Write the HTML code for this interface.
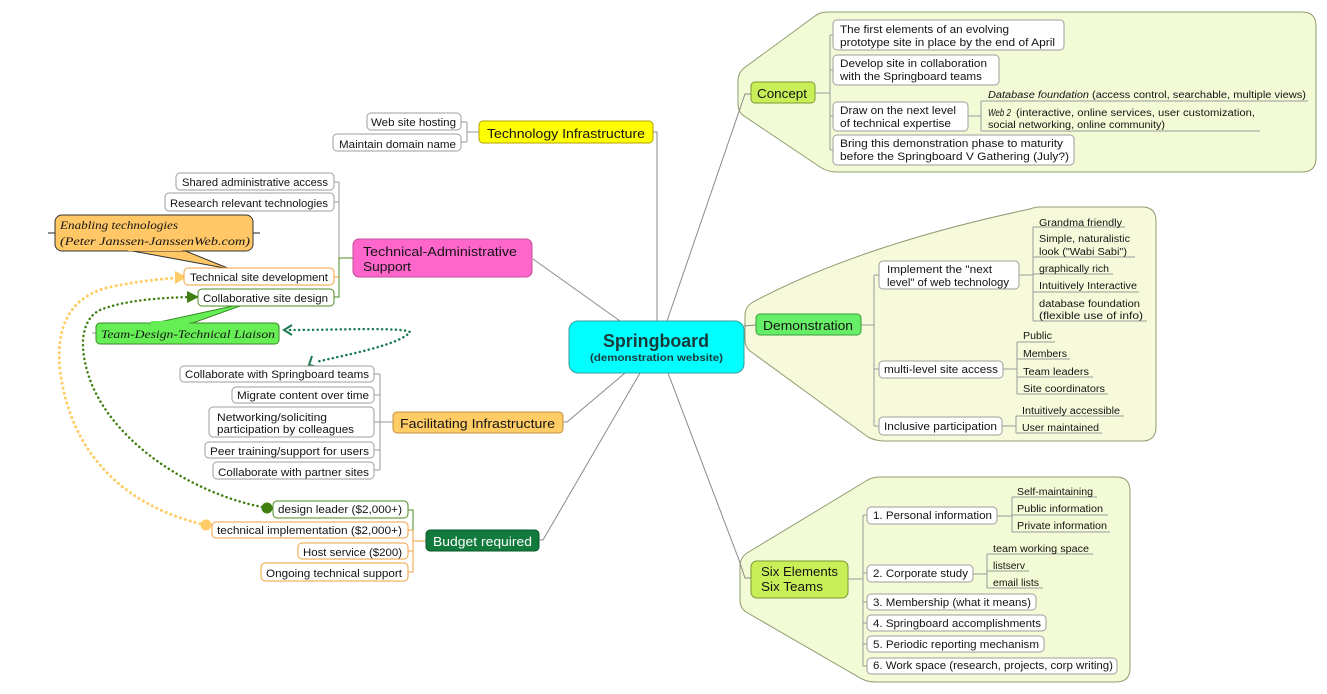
<!DOCTYPE html>
<html><head><meta charset="utf-8"><style>
html,body{margin:0;padding:0;background:#fff;}
svg{display:block;}
text{font-family:"Liberation Sans",Arial,sans-serif;fill:#141414;}
.t{font-size:11px;}
.s{font-size:10px;}
.m{font-size:13px;}
.h{font-family:"Liberation Serif",serif;font-style:italic;font-size:12px;}
</style></head><body>
<svg width="1327" height="694" viewBox="0 0 1327 694" xmlns="http://www.w3.org/2000/svg">
<rect width="1327" height="694" fill="#fff"/>

<!-- panels -->
<path d="M828,12 H1302 Q1316,12 1316,26 V158 Q1316,172 1302,172 H836 Q828,172 820,167 L744,116 Q738,112 738,104 V80 Q738,73 744,68 L815,16 Q820,12 828,12 Z" fill="#f3fad6" stroke="#8e9d72" stroke-width="1"/>
<path d="M1040,207 H1142 Q1156,207 1156,221 V427 Q1156,441 1142,441 H884 Q876,441 868,437 L750,351 Q745,347 745,340 V315 Q745,307 753,302 Q860,245 1030,209 Q1035,207 1040,207 Z" fill="#f6fadb" stroke="#8e9d72" stroke-width="1"/>
<path d="M880,477 H1116 Q1130,477 1130,491 V668 Q1130,682 1116,682 H876 Q868,682 862,679 L746,612 Q740,608 740,600 V566 Q740,558 747,553 L866,481 Q872,477 880,477 Z" fill="#f3fad6" stroke="#8e9d72" stroke-width="1"/>

<!-- main connectors -->
<g stroke="#8a8a8a" stroke-width="1" fill="none">
<path d="M653,132 H657 V321"/>
<path d="M533,259 L620,321"/>
<path d="M667,321 L745,94 H751"/>
<path d="M744,326 L756,325"/>
<path d="M668,373 L739,560 L745,578 H751"/>
<path d="M563,422 H567 L625,373"/>
<path d="M539,540 H543 L640,373"/>
</g>

<!-- brackets -->
<g stroke="#9a9a9a" stroke-width="1" fill="none">
<!-- concept -->
<path d="M815,93 H830 M830,35 V150 M830,35 H833 M830,70 H833 M830,116 H833 M830,150 H833"/>
<path d="M968,116 H981 M981,101 V131 M981,101 H1308 M981,131 H1260"/>
<!-- demonstration -->
<path d="M861,325 H874 M874,275 V426 M874,275 H879 M874,369 H879 M874,426 H879"/>
<path d="M1019,275 H1033 M1033,227 V321 M1033,227 H1125 M1033,257 H1135 M1033,274 H1113 M1033,292 H1139 M1033,321 H1147"/>
<path d="M1003,369 H1017 M1017,342 V394 M1017,342 H1055 M1017,359 H1070 M1017,377 H1093 M1017,394 H1108"/>
<path d="M1002,426 H1016 M1016,416 V433 M1016,416 H1124 M1016,433 H1102"/>
<!-- six -->
<path d="M848,579 H863 M863,515 V666 M863,515 H867 M863,573 H867 M863,602 H867 M863,623 H867 M863,644 H867 M863,666 H867"/>
<path d="M997,516 H1012 M1012,497 V532 M1012,497 H1097 M1012,515 H1108 M1012,532 H1110"/>
<path d="M973,574 H987 M987,554 V588 M987,554 H1093 M987,571 H1029 M987,588 H1043"/>
<!-- tech infra -->
<path d="M479,132 H467 M467,122 V142 M467,122 H461 M467,142 H461"/>
<!-- tech admin -->
<path d="M339,182 V258 M339,182 H334 M339,202 H334"/>
<!-- facilitating -->
<path d="M393,422 H380 M380,374 V470 M380,374 H374 M380,395 H374 M380,422 H374 M380,450 H374 M380,470 H374"/>
</g>
<g stroke="#4a8a20" stroke-width="1" fill="none">
<path d="M353,258 H339 V297 H334"/>
<path d="M413,530 V510 H408"/>
</g>
<g stroke="#f0a040" stroke-width="1" fill="none">
<path d="M339,277 H334"/>
<path d="M426,541 H413 M413,530 V572 M413,530 H408 M413,551 H408 M413,572 H408"/>
</g>

<!-- dotted relation curves -->
<path d="M205,525 C120,505 70,450 60,370 C55,320 75,295 110,287 C140,281 160,279 176,278" fill="none" stroke="#ffcc66" stroke-width="3" stroke-linecap="round" stroke-dasharray="0.1 5"/>
<polygon points="187,277 175,271 175,284" fill="#ffcc66"/>
<circle cx="206" cy="525" r="5.5" fill="#ffcc66"/>
<path d="M262,507 C200,495 120,450 92,385 C78,350 80,320 100,310 C125,300 160,298 188,297" fill="none" stroke="#3f7f10" stroke-width="2.5" stroke-linecap="round" stroke-dasharray="0.1 4.5"/>
<polygon points="199,297 187,291 187,303" fill="#3f7f10"/>
<circle cx="267" cy="508" r="5.5" fill="#3f7f10"/>
<path d="M290,330 C340,330 400,327 410,332 C400,345 345,355 316,362" fill="none" stroke="#1a7a50" stroke-width="2.5" stroke-linecap="round" stroke-dasharray="0.1 4.5"/>
<polyline points="292,325 284,330 292,335" fill="none" stroke="#1a7a50" stroke-width="2"/>
<polyline points="312,356 309,365 318,367" fill="none" stroke="#1a7a50" stroke-width="2"/>

<!-- enabling callout -->
<line x1="48" y1="233" x2="260" y2="233" stroke="#222" stroke-width="1"/>
<polygon points="127,250 230,269 183,250" fill="#ffc766" stroke="#333" stroke-width="1"/>
<rect x="55" y="215" width="198" height="36" rx="7" fill="#ffc766" stroke="#333" stroke-width="1"/>
<rect x="128" y="246" width="54" height="5" fill="#ffc766"/>
<text class="h" x="60" y="229" textLength="118" lengthAdjust="spacingAndGlyphs">Enabling technologies</text>
<text class="h" x="60" y="245" textLength="190" lengthAdjust="spacingAndGlyphs">(Peter Janssen-JanssenWeb.com)</text>

<!-- liaison callout -->
<line x1="92" y1="333" x2="96" y2="333" stroke="#999"/>
<polygon points="150,324 233,306 240,306 190,324" fill="#66ee55" stroke="#3a8a2a" stroke-width="1"/>
<rect x="96" y="323" width="183" height="21" rx="4" fill="#66ee55" stroke="#3a8a2a" stroke-width="1"/>
<rect x="151" y="321" width="38" height="4" fill="#66ee55"/>
<text class="h" x="101" y="338" textLength="174" lengthAdjust="spacingAndGlyphs">Team-Design-Technical Liaison</text>

<!-- white boxes -->
<g fill="#fff" stroke="#9e9e9e" stroke-width="1">
<rect x="833" y="20" width="231" height="30" rx="4"/>
<rect x="833" y="55" width="166" height="30" rx="4"/>
<rect x="833" y="102" width="135" height="29" rx="4"/>
<rect x="833" y="135" width="241" height="30" rx="4"/>
<rect x="879" y="261" width="140" height="28" rx="4"/>
<rect x="879" y="361" width="124" height="17" rx="4"/>
<rect x="879" y="417" width="123" height="18" rx="4"/>
<rect x="867" y="507" width="130" height="17" rx="4"/>
<rect x="867" y="565" width="106" height="17" rx="4"/>
<rect x="867" y="594" width="169" height="16" rx="4"/>
<rect x="867" y="615" width="179" height="16" rx="4"/>
<rect x="867" y="636" width="177" height="16" rx="4"/>
<rect x="867" y="658" width="250" height="16" rx="4"/>
<rect x="367" y="113" width="94" height="17" rx="4"/>
<rect x="333" y="134" width="128" height="17" rx="4"/>
<rect x="176" y="173" width="158" height="17" rx="4"/>
<rect x="165" y="193" width="169" height="18" rx="4"/>
<rect x="180" y="366" width="194" height="16" rx="4"/>
<rect x="232" y="387" width="142" height="16" rx="4"/>
<rect x="209" y="407" width="165" height="30" rx="4"/>
<rect x="205" y="442" width="169" height="16" rx="4"/>
<rect x="213" y="462" width="161" height="17" rx="4"/>
</g>
<g fill="#fff" stroke="#f0a040" stroke-width="1">
<rect x="184" y="268" width="150" height="17" rx="4"/>
<rect x="212" y="522" width="196" height="16" rx="4"/>
<rect x="298" y="543" width="110" height="16" rx="4"/>
<rect x="261" y="563" width="147" height="18" rx="4"/>
</g>
<g fill="#fff" stroke="#4a8a20" stroke-width="1">
<rect x="198" y="289" width="136" height="17" rx="4"/>
<rect x="273" y="501" width="135" height="17" rx="4"/>
</g>

<!-- colored topic boxes -->
<rect x="569" y="321" width="175" height="52" rx="9" fill="#00ffff" stroke="#3a9a9a"/>
<rect x="751" y="82" width="64" height="21" rx="4" fill="#c8ee58" stroke="#7a9a30"/>
<rect x="756" y="314" width="105" height="21" rx="4" fill="#66ee66" stroke="#3a9a3a"/>
<rect x="751" y="561" width="97" height="37" rx="6" fill="#c8ee58" stroke="#7a9a30"/>
<rect x="479" y="121" width="174" height="22" rx="4" fill="#ffff00" stroke="#b0a000"/>
<rect x="353" y="239" width="179" height="38" rx="6" fill="#ff66cc" stroke="#c0509a"/>
<rect x="393" y="412" width="170" height="21" rx="4" fill="#ffcc66" stroke="#c09040"/>
<rect x="426" y="530" width="113" height="21" rx="4" fill="#117a3c" stroke="#0a5a2a"/>

<!-- center text -->
<text x="603" y="347" font-size="18" font-weight="bold" textLength="106" lengthAdjust="spacingAndGlyphs" style="fill:#1a3a3a">Springboard</text>
<text x="590" y="361" font-size="10.5" font-weight="bold" textLength="133" lengthAdjust="spacingAndGlyphs" style="fill:#1a3a3a">(demonstration website)</text>

<!-- topic texts -->
<text class="m" x="757" y="98" textLength="50" lengthAdjust="spacingAndGlyphs">Concept</text>
<text class="m" x="763" y="330" textLength="90" lengthAdjust="spacingAndGlyphs">Demonstration</text>
<text class="m" x="761" y="576" textLength="77" lengthAdjust="spacingAndGlyphs">Six Elements</text>
<text class="m" x="761" y="591" textLength="62" lengthAdjust="spacingAndGlyphs">Six Teams</text>
<text class="m" x="487" y="138" textLength="158" lengthAdjust="spacingAndGlyphs">Technology Infrastructure</text>
<text class="m" x="363" y="256" textLength="154" lengthAdjust="spacingAndGlyphs">Technical-Administrative</text>
<text class="m" x="363" y="271" textLength="48" lengthAdjust="spacingAndGlyphs">Support</text>
<text class="m" x="400" y="428" textLength="155" lengthAdjust="spacingAndGlyphs">Facilitating Infrastructure</text>
<text class="m" x="433" y="546" textLength="99" lengthAdjust="spacingAndGlyphs" style="fill:#fff">Budget required</text>

<!-- concept texts -->
<text class="t" x="840" y="33" textLength="169" lengthAdjust="spacingAndGlyphs">The first elements of an evolving</text>
<text class="t" x="840" y="46" textLength="215" lengthAdjust="spacingAndGlyphs">prototype site in place by the end of April</text>
<text class="t" x="840" y="67" textLength="147" lengthAdjust="spacingAndGlyphs">Develop site in collaboration</text>
<text class="t" x="840" y="80" textLength="142" lengthAdjust="spacingAndGlyphs">with the Springboard teams</text>
<text class="t" x="840" y="114" textLength="116" lengthAdjust="spacingAndGlyphs">Draw on the next level</text>
<text class="t" x="840" y="127" textLength="111" lengthAdjust="spacingAndGlyphs">of technical expertise</text>
<text class="t" x="840" y="147" textLength="223" lengthAdjust="spacingAndGlyphs">Bring this demonstration phase to maturity</text>
<text class="t" x="840" y="160" textLength="229" lengthAdjust="spacingAndGlyphs">before the Springboard V Gathering (July?)</text>
<text class="s" x="988" y="98" font-style="italic" textLength="101" lengthAdjust="spacingAndGlyphs">Database foundation</text>
<text class="s" x="1092" y="98" textLength="214" lengthAdjust="spacingAndGlyphs">(access control, searchable, multiple views)</text>
<text class="s" x="988" y="116" font-style="italic" textLength="23" lengthAdjust="spacingAndGlyphs">Web 2</text>
<text class="s" x="1016" y="116" textLength="239" lengthAdjust="spacingAndGlyphs">(interactive, online services, user customization,</text>
<text class="s" x="988" y="128" textLength="177" lengthAdjust="spacingAndGlyphs">social networking, online community)</text>

<!-- demonstration texts -->
<text class="t" x="887" y="273" textLength="105" lengthAdjust="spacingAndGlyphs">Implement the "next</text>
<text class="t" x="887" y="286" textLength="122" lengthAdjust="spacingAndGlyphs">level" of web technology</text>
<text class="t" x="884" y="373" textLength="114" lengthAdjust="spacingAndGlyphs">multi-level site access</text>
<text class="t" x="884" y="430" textLength="113" lengthAdjust="spacingAndGlyphs">Inclusive participation</text>
<text class="s" x="1039" y="226" textLength="83" lengthAdjust="spacingAndGlyphs">Grandma friendly</text>
<text class="s" x="1039" y="242" textLength="91" lengthAdjust="spacingAndGlyphs">Simple, naturalistic</text>
<text class="s" x="1039" y="255" textLength="88" lengthAdjust="spacingAndGlyphs">look ("Wabi Sabi")</text>
<text class="s" x="1039" y="272" textLength="70" lengthAdjust="spacingAndGlyphs">graphically rich</text>
<text class="s" x="1039" y="289" textLength="98" lengthAdjust="spacingAndGlyphs">Intuitively Interactive</text>
<text class="s" x="1039" y="307" textLength="101" lengthAdjust="spacingAndGlyphs">database foundation</text>
<text class="s" x="1039" y="319" textLength="104" lengthAdjust="spacingAndGlyphs">(flexible use of info)</text>
<text class="s" x="1023" y="339" textLength="29" lengthAdjust="spacingAndGlyphs">Public</text>
<text class="s" x="1023" y="357" textLength="44" lengthAdjust="spacingAndGlyphs">Members</text>
<text class="s" x="1023" y="375" textLength="66" lengthAdjust="spacingAndGlyphs">Team leaders</text>
<text class="s" x="1023" y="392" textLength="82" lengthAdjust="spacingAndGlyphs">Site coordinators</text>
<text class="s" x="1022" y="414" textLength="98" lengthAdjust="spacingAndGlyphs">Intuitively accessible</text>
<text class="s" x="1022" y="431" textLength="77" lengthAdjust="spacingAndGlyphs">User maintained</text>

<!-- six texts -->
<text class="t" x="873" y="519" textLength="119" lengthAdjust="spacingAndGlyphs">1. Personal information</text>
<text class="t" x="873" y="577" textLength="95" lengthAdjust="spacingAndGlyphs">2. Corporate study</text>
<text class="t" x="873" y="606" textLength="158" lengthAdjust="spacingAndGlyphs">3. Membership (what it means)</text>
<text class="t" x="873" y="627" textLength="168" lengthAdjust="spacingAndGlyphs">4. Springboard accomplishments</text>
<text class="t" x="873" y="648" textLength="166" lengthAdjust="spacingAndGlyphs">5. Periodic reporting mechanism</text>
<text class="t" x="873" y="669" textLength="240" lengthAdjust="spacingAndGlyphs">6. Work space (research, projects, corp writing)</text>
<text class="s" x="1017" y="495" textLength="76" lengthAdjust="spacingAndGlyphs">Self-maintaining</text>
<text class="s" x="1017" y="512" textLength="86" lengthAdjust="spacingAndGlyphs">Public information</text>
<text class="s" x="1017" y="529" textLength="90" lengthAdjust="spacingAndGlyphs">Private information</text>
<text class="s" x="993" y="552" textLength="96" lengthAdjust="spacingAndGlyphs">team working space</text>
<text class="s" x="993" y="569" textLength="32" lengthAdjust="spacingAndGlyphs">listserv</text>
<text class="s" x="993" y="586" textLength="46" lengthAdjust="spacingAndGlyphs">email lists</text>

<!-- left texts -->
<text class="t" x="371" y="126" textLength="85" lengthAdjust="spacingAndGlyphs">Web site hosting</text>
<text class="t" x="339" y="148" textLength="117" lengthAdjust="spacingAndGlyphs">Maintain domain name</text>
<text class="t" x="182" y="186" textLength="146" lengthAdjust="spacingAndGlyphs">Shared administrative access</text>
<text class="t" x="170" y="207" textLength="158" lengthAdjust="spacingAndGlyphs">Research relevant technologies</text>
<text class="t" x="190" y="281" textLength="138" lengthAdjust="spacingAndGlyphs">Technical site development</text>
<text class="t" x="203" y="302" textLength="125" lengthAdjust="spacingAndGlyphs">Collaborative site design</text>
<text class="t" x="185" y="378" textLength="184" lengthAdjust="spacingAndGlyphs">Collaborate with Springboard teams</text>
<text class="t" x="237" y="399" textLength="132" lengthAdjust="spacingAndGlyphs">Migrate content over time</text>
<text class="t" x="217" y="421" textLength="110" lengthAdjust="spacingAndGlyphs">Networking/soliciting</text>
<text class="t" x="217" y="433" textLength="137" lengthAdjust="spacingAndGlyphs">participation by colleagues</text>
<text class="t" x="210" y="455" textLength="159" lengthAdjust="spacingAndGlyphs">Peer training/support for users</text>
<text class="t" x="218" y="476" textLength="151" lengthAdjust="spacingAndGlyphs">Collaborate with partner sites</text>
<text class="t" x="278" y="513" textLength="124" lengthAdjust="spacingAndGlyphs">design leader ($2,000+)</text>
<text class="t" x="217" y="534" textLength="185" lengthAdjust="spacingAndGlyphs">technical implementation ($2,000+)</text>
<text class="t" x="303" y="556" textLength="99" lengthAdjust="spacingAndGlyphs">Host service ($200)</text>
<text class="t" x="266" y="577" textLength="136" lengthAdjust="spacingAndGlyphs">Ongoing technical support</text>
</svg>
</body></html>
